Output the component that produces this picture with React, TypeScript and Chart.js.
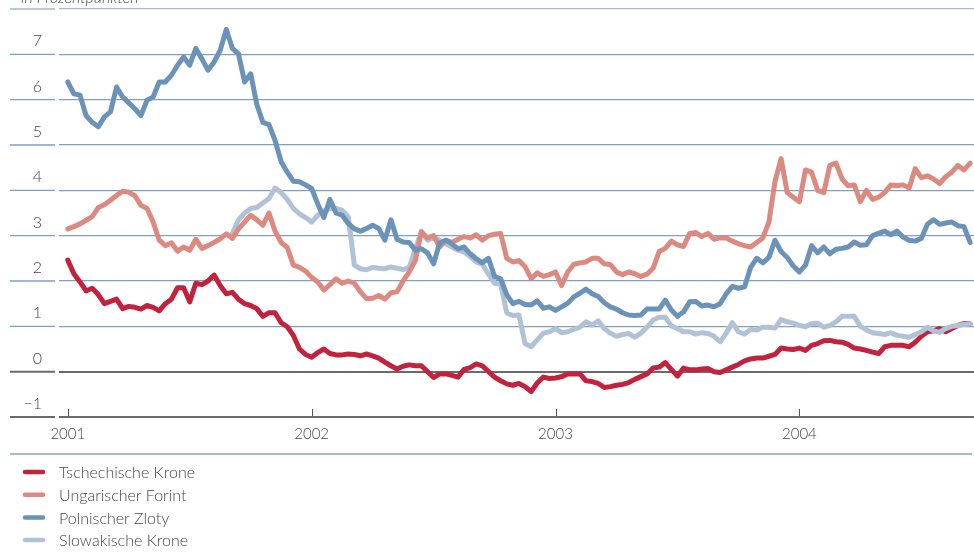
import React, { useEffect, useRef } from "react";
import { Chart, registerables } from "chart.js";

Chart.register(...registerables);

// Sampling grid (fractional years), one value every STEP years starting at START_YEAR
const START_YEAR = 2001;
const STEP = 0.025;

const UNIT_LABEL = "in Prozentpunkten";
const SERIES_LABELS = ["Tschechische Krone", "Ungarischer Forint", "Polnischer Zloty", "Slowakische Krone"];
const SERIES_COLORS = ["#c3223f", "#dc8a80", "#6b92b8", "#b1c2d7"];
const YEAR_TICKS = [2001, 2002, 2003, 2004];
const Y_TICKS = [-1, 0, 1, 2, 3, 4, 5, 6, 7, 8];

const CZK = [
  2.46, 2.16, 1.98, 1.78, 1.84, 1.7, 1.5, 1.55, 1.6, 1.39,
  1.44, 1.42, 1.38, 1.46, 1.42, 1.34, 1.5, 1.6, 1.85, 1.85,
  1.54, 1.95, 1.92, 2.0, 2.13, 1.9, 1.72, 1.75, 1.6, 1.5,
  1.46, 1.39, 1.22, 1.3, 1.3, 1.08, 0.99, 0.8, 0.5, 0.38,
  0.32, 0.42, 0.5, 0.4, 0.37, 0.37, 0.39, 0.38, 0.35, 0.39,
  0.35, 0.3, 0.21, 0.13, 0.06, 0.12, 0.15, 0.13, 0.13, 0.0,
  -0.13, -0.05, -0.05, -0.08, -0.12, 0.05, 0.09, 0.17, 0.13, 0.0,
  -0.12, -0.2, -0.27, -0.3, -0.26, -0.33, -0.44, -0.25, -0.12, -0.15,
  -0.14, -0.11, -0.05, -0.05, -0.05, -0.2, -0.22, -0.26, -0.35, -0.33,
  -0.3, -0.28, -0.24, -0.17, -0.11, -0.05, 0.08, 0.1, 0.2, 0.05,
  -0.1, 0.08, 0.04, 0.04, 0.06, 0.07, 0.0, -0.02, 0.04, 0.1,
  0.16, 0.24, 0.28, 0.3, 0.3, 0.34, 0.38, 0.52, 0.5, 0.49,
  0.52, 0.47, 0.58, 0.62, 0.68, 0.69, 0.66, 0.65, 0.6, 0.52,
  0.5, 0.47, 0.43, 0.4, 0.55, 0.58, 0.58, 0.58, 0.55, 0.65,
  0.78, 0.88, 0.9, 0.95, 0.88, 0.95, 1.02, 1.06, 1.05,
];

const HUF = [
  3.15, 3.2, 3.26, 3.34, 3.42, 3.62, 3.68, 3.78, 3.89, 3.98,
  3.96, 3.88, 3.67, 3.6, 3.3, 2.9, 2.78, 2.84, 2.66, 2.75,
  2.68, 2.92, 2.72, 2.78, 2.85, 2.93, 3.04, 2.94, 3.15, 3.3,
  3.45, 3.35, 3.23, 3.5, 3.1, 2.85, 2.74, 2.35, 2.3, 2.22,
  2.08, 1.98, 1.8, 1.92, 2.05, 1.95, 2.0, 1.95, 1.76, 1.61,
  1.62, 1.68, 1.6, 1.74, 1.76, 2.0, 2.2, 2.45, 3.08, 2.95,
  3.0, 2.75, 2.9, 2.85, 2.92, 2.98, 2.95, 3.02, 2.9, 3.0,
  3.03, 3.05, 2.5, 2.42, 2.45, 2.32, 2.05, 2.18, 2.1, 2.14,
  2.2, 1.9, 2.2, 2.37, 2.4, 2.42, 2.5, 2.5, 2.38, 2.36,
  2.2, 2.14, 2.2, 2.16, 2.1, 2.15, 2.28, 2.65, 2.72, 2.88,
  2.8, 2.76, 3.05, 3.07, 2.98, 3.05, 2.92, 2.95, 2.95, 2.88,
  2.82, 2.78, 2.75, 2.85, 2.95, 3.3, 4.2, 4.7, 3.95, 3.85,
  3.75, 4.45, 4.4, 4.0, 3.95, 4.55, 4.6, 4.25, 4.1, 4.12,
  3.75, 4.0, 3.8, 3.85, 3.95, 4.12, 4.1, 4.12, 4.05, 4.48,
  4.28, 4.32, 4.25, 4.15, 4.3, 4.4, 4.55, 4.45, 4.6,
];

const PLN = [
  6.39, 6.13, 6.1, 5.65, 5.5, 5.4, 5.62, 5.73, 6.28, 6.06,
  5.93, 5.8, 5.65, 5.99, 6.06, 6.39, 6.39, 6.54, 6.76, 6.94,
  6.76, 7.13, 6.9, 6.65, 6.83, 7.09, 7.55, 7.13, 7.01, 6.39,
  6.57, 5.9, 5.5, 5.45, 5.1, 4.63, 4.4, 4.2, 4.19, 4.12,
  4.04, 3.7, 3.4, 3.8, 3.5, 3.45, 3.27, 3.15, 3.1, 3.16,
  3.23, 3.16, 2.9, 3.35, 2.92, 2.86, 2.85, 2.68, 2.71, 2.62,
  2.38, 2.84, 2.9, 2.82, 2.71, 2.75, 2.6, 2.49, 2.4, 2.5,
  2.1, 2.05, 1.7, 1.5, 1.55, 1.48, 1.47, 1.56, 1.4, 1.43,
  1.35, 1.43, 1.51, 1.65, 1.73, 1.82, 1.72, 1.66, 1.52, 1.43,
  1.38, 1.3, 1.25, 1.24, 1.25, 1.38, 1.38, 1.38, 1.58, 1.36,
  1.22, 1.32, 1.54, 1.55, 1.45, 1.47, 1.43, 1.5, 1.72, 1.88,
  1.84, 1.87, 2.3, 2.5, 2.4, 2.52, 2.9, 2.65, 2.52, 2.33,
  2.2, 2.35, 2.78, 2.62, 2.75, 2.6, 2.7, 2.72, 2.75, 2.86,
  2.79, 2.8, 3.0, 3.05, 3.1, 3.02, 3.1, 2.97, 2.9, 2.88,
  2.94, 3.25, 3.35, 3.25, 3.28, 3.3, 3.22, 3.2, 2.85,
];

const SKK = [
  null, null, null, null, null, null, null, null, null, null,
  null, null, null, null, null, null, null, null, null, null,
  null, null, null, null, null, null, null, 3.05, 3.35, 3.5,
  3.6, 3.62, 3.72, 3.82, 4.05, 3.95, 3.8, 3.6, 3.48, 3.4,
  3.3, 3.45, 3.55, 3.6, 3.6, 3.56, 3.42, 2.35, 2.27, 2.25,
  2.3, 2.28, 2.27, 2.31, 2.28, 2.25, 2.3, 2.7, 3.1, 2.9,
  2.95, 2.9, 2.82, 2.75, 2.68, 2.64, 2.54, 2.42, 2.37, 2.15,
  1.95, 1.93, 1.3, 1.24, 1.25, 0.62, 0.55, 0.7, 0.85, 0.88,
  0.95, 0.86, 0.88, 0.93, 0.98, 1.1, 1.03, 1.12, 0.95, 0.85,
  0.78, 0.82, 0.84, 0.76, 0.85, 0.98, 1.14, 1.2, 1.2, 1.01,
  0.95, 0.88, 0.88, 0.83, 0.86, 0.84, 0.78, 0.66, 0.85, 1.08,
  0.88, 0.83, 0.93, 0.92, 0.98, 0.98, 0.96, 1.15, 1.1, 1.07,
  1.02, 0.99, 1.06, 1.07, 0.98, 1.02, 1.1, 1.22, 1.22, 1.22,
  1.0, 0.92, 0.86, 0.84, 0.82, 0.86, 0.8, 0.78, 0.76, 0.82,
  0.88, 0.98, 0.9, 0.87, 0.95, 1.0, 1.02, 1.04, 1.05,
];

const SERIES = [CZK, HUF, PLN, SKK];
const DRAW_ORDER = [3, 1, 0, 2]; // lower = drawn on top

const GRID = "#7f9fc5";
const GRID_TOP = "#a3b8d2";
const DARK = "#6a6a6a";
const TEXT = "#454545";
const FONT = "Lato";

function toPoints(values: (number | null)[]) {
  const pts: { x: number; y: number }[] = [];
  values.forEach((v, i) => {
    if (v !== null) pts.push({ x: START_YEAR + i * STEP, y: v });
  });
  return pts;
}

function gridColor(v: number) {
  if (v === 0 || v === -1) return DARK;
  if (v === 8) return GRID_TOP;
  return GRID;
}
function gridWidth(v: number) {
  return v === 0 || v === -1 ? 2 : 1.3;
}

const decorPlugin = {
  id: "decor",
  beforeDatasetsDraw(chart: any) {
    const ctx = chart.ctx;
    const y = chart.scales.y;
    const x = chart.scales.x;
    const area = chart.chartArea;
    ctx.save();
    // gridline segments in the label column
    Y_TICKS.forEach((v) => {
      const py = y.getPixelForValue(v);
      ctx.beginPath();
      ctx.strokeStyle = gridColor(v);
      ctx.lineWidth = gridWidth(v);
      ctx.moveTo(10, py);
      ctx.lineTo(area.left - 4, py);
      ctx.stroke();
    });
    // year tick marks pointing up into the plot
    YEAR_TICKS.forEach((v) => {
      const px = Math.round(x.getPixelForValue(v)) + 0.5;
      ctx.beginPath();
      ctx.strokeStyle = "#555";
      ctx.lineWidth = 1;
      ctx.moveTo(px, area.bottom - 1);
      ctx.lineTo(px, area.bottom - 8);
      ctx.stroke();
    });
    ctx.restore();
  },
  afterDraw(chart: any) {
    const ctx = chart.ctx;
    const w = chart.width;
    ctx.save();
    // unit label (cut at the top)
    ctx.font = `italic 300 16px ${FONT}`;
    ctx.fillStyle = TEXT;
    ctx.textAlign = "left";
    ctx.textBaseline = "alphabetic";
    ctx.fillText(UNIT_LABEL, 21, 3);
    // separator line above the legend
    ctx.beginPath();
    ctx.strokeStyle = "#86a3c7";
    ctx.lineWidth = 1.5;
    ctx.moveTo(10, 454);
    ctx.lineTo(w - 2, 454);
    ctx.stroke();
    // legend
    ctx.font = `300 16px ${FONT}`;
    ctx.textBaseline = "middle";
    SERIES_LABELS.forEach((label, i) => {
      const ly = 472 + i * 22.7;
      ctx.beginPath();
      ctx.strokeStyle = SERIES_COLORS[i];
      ctx.lineWidth = 4.5;
      ctx.lineCap = "round";
      ctx.moveTo(25, ly);
      ctx.lineTo(43, ly);
      ctx.stroke();
      ctx.fillStyle = TEXT;
      ctx.fillText(label, 59, ly + 1);
    });
    ctx.restore();
  },
};

export default function App() {
  const canvasRef = useRef<HTMLCanvasElement | null>(null);

  useEffect(() => {
    if (!canvasRef.current) return;
    const chart = new Chart(canvasRef.current, {
      type: "line",
      data: {
        datasets: SERIES.map((vals, i) => ({
          label: SERIES_LABELS[i],
          data: toPoints(vals),
          borderColor: SERIES_COLORS[i],
          backgroundColor: SERIES_COLORS[i],
          borderWidth: 5,
          borderJoinStyle: "round" as const,
          borderCapStyle: "round" as const,
          pointRadius: 0,
          pointHoverRadius: 0,
          tension: 0,
          fill: false,
          order: DRAW_ORDER[i],
        })),
      },
      options: {
        animation: false,
        responsive: false,
        devicePixelRatio: 1,
        events: [],
        layout: { padding: { top: 9, left: 0, right: 0, bottom: 110 } },
        plugins: {
          legend: { display: false },
          tooltip: { enabled: false },
          title: { display: false },
        },
        scales: {
          x: {
            type: "linear",
            min: 2000.964,
            max: 2004.716,
            afterBuildTicks: (axis: any) => {
              axis.ticks = YEAR_TICKS.map((v) => ({ value: v }));
            },
            afterFit: (axis: any) => {
              axis.height = 30;
              axis.paddingLeft = 0;
              axis.paddingRight = 0;
            },
            grid: { display: false, drawTicks: false, tickLength: 0 },
            border: { display: false },
            ticks: {
              autoSkip: false,
              maxRotation: 0,
              padding: 8,
              color: TEXT,
              font: { family: FONT, size: 15, weight: "300" as any },
              callback: (v: any) => String(v),
            },
          },
          y: {
            type: "linear",
            min: -1,
            max: 8,
            afterBuildTicks: (axis: any) => {
              axis.ticks = Y_TICKS.map((v) => ({ value: v }));
            },
            afterFit: (axis: any) => {
              axis.width = 59;
              axis.paddingTop = 0;
              axis.paddingBottom = 0;
            },
            grid: {
              drawTicks: false,
              tickLength: 0,
              color: (c: any) => gridColor(c.tick ? c.tick.value : 1),
              lineWidth: (c: any) => gridWidth(c.tick ? c.tick.value : 1),
            },
            border: { display: false },
            ticks: {
              padding: 17,
              labelOffset: -13,
              color: TEXT,
              font: { family: FONT, size: 16, weight: "300" as any },
              callback: (v: any) => (v === 8 ? "" : v < 0 ? "\u2212" + Math.abs(v) : String(v)),
            },
          },
        },
      },
      plugins: [decorPlugin],
    });
    return () => chart.destroy();
  }, []);

  return (
    <div style={{ position: "absolute", left: 0, top: 0, width: 974, height: 557, background: "#fff" }}>
      <canvas ref={canvasRef} width={974} height={557} style={{ display: "block" }} />
    </div>
  );
}
